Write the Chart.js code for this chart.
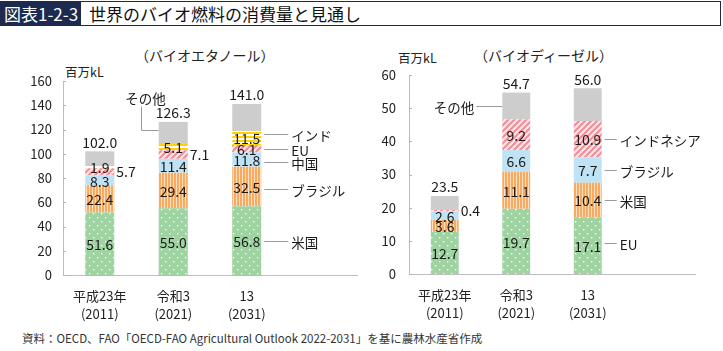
<!DOCTYPE html>
<html><head><meta charset="utf-8">
<script src="https://cdn.jsdelivr.net/npm/chart.js@4.4.1/dist/chart.umd.min.js"></script>
<style>
html,body{margin:0;padding:0;background:#fff;}
body{width:723px;height:351px;position:relative;overflow:hidden;font-family:"Noto Sans CJK JP","Noto Sans",sans-serif;color:#222;}
#hdr{position:absolute;left:0;top:1px;width:721px;height:25px;border:1px solid #1b2a4e;box-sizing:border-box;}
#hdrTag{position:absolute;left:0;top:0;width:80px;height:100%;background:#1b2a4e;color:#fff;font-size:17px;line-height:23px;padding-left:3px;box-sizing:border-box;white-space:nowrap;}
#hdrTitle{position:absolute;left:88px;top:0;font-size:17px;line-height:23px;white-space:nowrap;color:#111;}
.t{position:absolute;white-space:nowrap;color:#222;}
canvas{position:absolute;top:0;}
</style></head>
<body>
<div id="hdr"><div id="hdrTag">図表1-2-3</div><div id="hdrTitle">世界のバイオ燃料の消費量と見通し</div></div>
<div class="t" style="left:135px;top:45px;font-size:14px;">（バイオエタノール）</div>
<div class="t" style="left:65px;top:62px;font-size:12.5px;">百万kL</div>
<div class="t" style="left:474px;top:45px;font-size:14px;">（バイオディーゼル）</div>
<div class="t" style="left:398px;top:48px;font-size:12.5px;">百万kL</div>
<div class="t" style="left:22px;top:330px;font-size:11.5px;color:#333;">資料：OECD、FAO「OECD-FAO Agricultural Outlook 2022-2031」を基に農林水産省作成</div>
<canvas id="c1" width="370" height="351" style="left:0;"></canvas>
<canvas id="c2" width="353" height="351" style="left:370px;"></canvas>
<script>
// ---- data ----
const categories = [['平成23年','(2011)'], ['令和3','(2021)'], ['13','(2031)'], ''];
const ethanolSeries = ['米国','ブラジル','中国','EU','インド','その他'];
const ethUS     = [51.6, 55.0, 56.8];
const ethBrazil = [22.4, 29.4, 32.5];
const ethChina  = [8.3, 11.4, 11.8];
const ethEU     = [5.7, 7.1, 6.1];
const ethIndia  = [1.9, 5.1, 11.5];
const ethOther  = [12.1, 18.3, 22.3];
const ethTotal  = [102.0, 126.3, 141.0];
const ethTicks  = [0, 20, 40, 60, 80, 100, 120, 140, 160];

const dieselSeries = ['EU','米国','ブラジル','インドネシア','その他'];
const dslEU       = [12.7, 19.7, 17.1];
const dslUS       = [3.6, 11.1, 10.4];
const dslBrazil   = [2.6, 6.6, 7.7];
const dslIndonesia= [0.4, 9.2, 10.9];
const dslOther    = [4.2, 8.1, 9.9];
const dslTotal    = [23.5, 54.7, 56.0];
const dslTicks    = [0, 10, 20, 30, 40, 50, 60];

const FONT = '"Noto Sans CJK JP","Noto Sans",sans-serif';

// ---- patterns ----
function pat(kind){
  const c = document.createElement('canvas');
  const g = c.getContext('2d');
  if (kind==='dots'){
    c.width=8;c.height=8;g.fillStyle='#9fd4a2';g.fillRect(0,0,8,8);
    g.fillStyle='#ffffff';g.fillRect(1,1,1.3,1.3);g.fillRect(5,5,1.3,1.3);
  } else if (kind==='vstripe'){
    c.width=3;c.height=3;g.fillStyle='#f6aa62';g.fillRect(0,0,3,3);
    g.fillStyle='#fde0bf';g.fillRect(2,0,1,3);
  } else if (kind==='diag'){
    c.width=6;c.height=6;g.fillStyle='#fde6e8';g.fillRect(0,0,6,6);
    g.strokeStyle='#f08d97';g.lineWidth=2;
    g.beginPath();g.moveTo(-1,7);g.lineTo(7,-1);g.moveTo(-4,4);g.lineTo(4,-4);g.moveTo(2,10);g.lineTo(10,2);g.stroke();
  } else if (kind==='hstripe'){
    c.width=4;c.height=4;g.fillStyle='#ffffff';g.fillRect(0,0,4,4);
    g.fillStyle='#ffd200';g.fillRect(0,0,4,2);
  }
  return g.createPattern(c,'repeat');
}
const P = {green:pat('dots'), orange:pat('vstripe'), blue:'#bfe2f4', pink:pat('diag'), yellow:pat('hstripe'), gray:'#cdcdcd'};

// ---- plugins ----
const valuePlugin = {
  id:'vals',
  afterDatasetsDraw(chart, args, o){
    const ctx = chart.ctx; ctx.save();
    ctx.font = '14px '+FONT; ctx.fillStyle = '#1a1a1a'; ctx.textBaseline='middle';
    chart.data.datasets.forEach((ds, di)=>{
      const meta = chart.getDatasetMeta(di);
      meta.data.forEach((el, i)=>{
        const v = ds.data[i]; if (v==null) return;
        const cy = (el.y + el.base)/2;
        if (!ds.noValue){
          if (ds.outside && ds.outside.includes(i)){ ctx.textAlign='left'; ctx.fillText(v.toFixed(1), el.x+el.width/2+2, cy); }
          else { ctx.textAlign='center'; ctx.fillText(v.toFixed(1), el.x, cy+1); }
        }
      });
    });
    // totals
    const last = chart.getDatasetMeta(chart.data.datasets.length-1);
    ctx.textAlign='center';
    o.totals.forEach((t,i)=>{ const el = last.data[i]; ctx.fillText(t.toFixed(1), el.x, el.y-9); });
    // callouts
    ctx.strokeStyle='#9a9a9a'; ctx.lineWidth=1; ctx.font='13.5px '+FONT;
    (o.callouts||[]).forEach(c=>{
      const el = chart.getDatasetMeta(c.ds).data[c.i];
      const cy = Math.round((el.y+el.base)/2 + (c.dy||0)) + 0.5;
      if (c.side==='right'){
        const x0 = el.x + el.width/2 + 3;
        ctx.beginPath(); ctx.moveTo(x0, cy); ctx.lineTo(x0 + c.len, cy); ctx.stroke();
        ctx.textAlign='left'; ctx.fillText(c.text, x0 + c.len + 3, cy+1);
      } else if (c.side==='left'){
        const x1 = el.x - el.width/2;
        ctx.beginPath(); ctx.moveTo(x1, cy); ctx.lineTo(x1 - c.len, cy); ctx.stroke();
        ctx.textAlign='right'; ctx.fillText(c.text, x1 - c.len - 2, cy+1);
      } else if (c.side==='elbow'){
        const x1 = el.x - el.width/2;
        const xv = Math.round(x1 - c.len) + 0.5;
        ctx.beginPath(); ctx.moveTo(x1, cy); ctx.lineTo(xv, cy); ctx.lineTo(xv, cy - c.up); ctx.stroke();
        ctx.textAlign='center'; ctx.fillText(c.text, xv + 4, cy - c.up - 8);
      }
    });
    ctx.restore();
  }
};
const tickPlugin = {
  id:'innerTicks',
  afterDraw(chart){
    const ctx = chart.ctx, y = chart.scales.y, x0 = chart.chartArea.left;
    ctx.save(); ctx.strokeStyle='#b5b5b5'; ctx.lineWidth=1;
    y.ticks.forEach(t=>{ const py = Math.round(y.getPixelForValue(t.value))+0.5; ctx.beginPath(); ctx.moveTo(x0, py); ctx.lineTo(x0+3, py); ctx.stroke(); });
    ctx.restore();
  }
};

function makeChart(id, datasets, opts){
  return new Chart(document.getElementById(id), {
    type:'bar',
    data:{labels:categories, datasets},
    options:{
      responsive:false, animation:false, devicePixelRatio:1,
      layout:{padding:{top:opts.top, right:opts.right, bottom:0, left:0}},
      plugins:{legend:{display:false}, tooltip:{enabled:false}, vals:{totals:opts.totals, callouts:opts.callouts}},
      datasets:{bar:{categoryPercentage:1, barPercentage:opts.barPct, borderWidth:0}},
      scales:{
        x:{stacked:true, grid:{display:false, drawTicks:false}, border:{color:'#bdbdbd', width:1},
           ticks:{font:{family:FONT,size:13,lineHeight:1.4}, color:'#222', padding:12, maxRotation:0, autoSkip:false},
           afterFit(s){ s.height = opts.xh; }},
        y:{stacked:true, min:0, max:opts.max, grid:{display:false, drawTicks:false}, border:{color:'#bdbdbd', width:1},
           afterBuildTicks(s){ s.ticks = opts.ticks.map(v=>({value:v})); },
           ticks:{font:{family:FONT,size:13}, color:'#222', padding:opts.tp},
           afterFit(s){ s.width = opts.yw; }}
      }
    },
    plugins:[valuePlugin, tickPlugin]
  });
}

makeChart('c1', [
  {label:ethanolSeries[0], data:ethUS, backgroundColor:P.green},
  {label:ethanolSeries[1], data:ethBrazil, backgroundColor:P.orange},
  {label:ethanolSeries[2], data:ethChina, backgroundColor:P.blue},
  {label:ethanolSeries[3], data:ethEU, backgroundColor:P.pink, outside:[0,1]},
  {label:ethanolSeries[4], data:ethIndia, backgroundColor:P.yellow},
  {label:ethanolSeries[5], data:ethOther, backgroundColor:P.gray, noValue:true}
], {top:81, right:13, xh:76, yw:63, tp:11, max:160, ticks:ethTicks, barPct:0.395, totals:ethTotal,
    callouts:[
      {ds:4,i:2,side:'right',len:24,text:ethanolSeries[4],dy:-4},
      {ds:3,i:2,side:'right',len:24,text:ethanolSeries[3],dy:0},
      {ds:2,i:2,side:'right',len:24,text:ethanolSeries[2],dy:2},
      {ds:1,i:2,side:'right',len:24,text:ethanolSeries[1],dy:3},
      {ds:0,i:2,side:'right',len:24,text:ethanolSeries[0],dy:0},
      {ds:5,i:1,side:'elbow',len:18,up:24,text:ethanolSeries[5],dy:-3}
    ]});

makeChart('c2', [
  {label:dieselSeries[0], data:dslEU, backgroundColor:P.green},
  {label:dieselSeries[1], data:dslUS, backgroundColor:P.orange},
  {label:dieselSeries[2], data:dslBrazil, backgroundColor:P.blue},
  {label:dieselSeries[3], data:dslIndonesia, backgroundColor:P.pink, outside:[0]},
  {label:dieselSeries[4], data:dslOther, backgroundColor:P.gray, noValue:true}
], {top:75, right:28, xh:77, yw:39, tp:13, max:60, ticks:dslTicks, barPct:0.39, totals:dslTotal,
    callouts:[
      {ds:3,i:2,side:'right',len:12,text:dieselSeries[3],dy:0},
      {ds:2,i:2,side:'right',len:12,text:dieselSeries[2],dy:0},
      {ds:1,i:2,side:'right',len:12,text:dieselSeries[1],dy:0},
      {ds:0,i:2,side:'right',len:12,text:dieselSeries[0],dy:-3},
      {ds:4,i:1,side:'left',len:26,text:dieselSeries[4],dy:0}
    ]});
</script>
</body></html>
